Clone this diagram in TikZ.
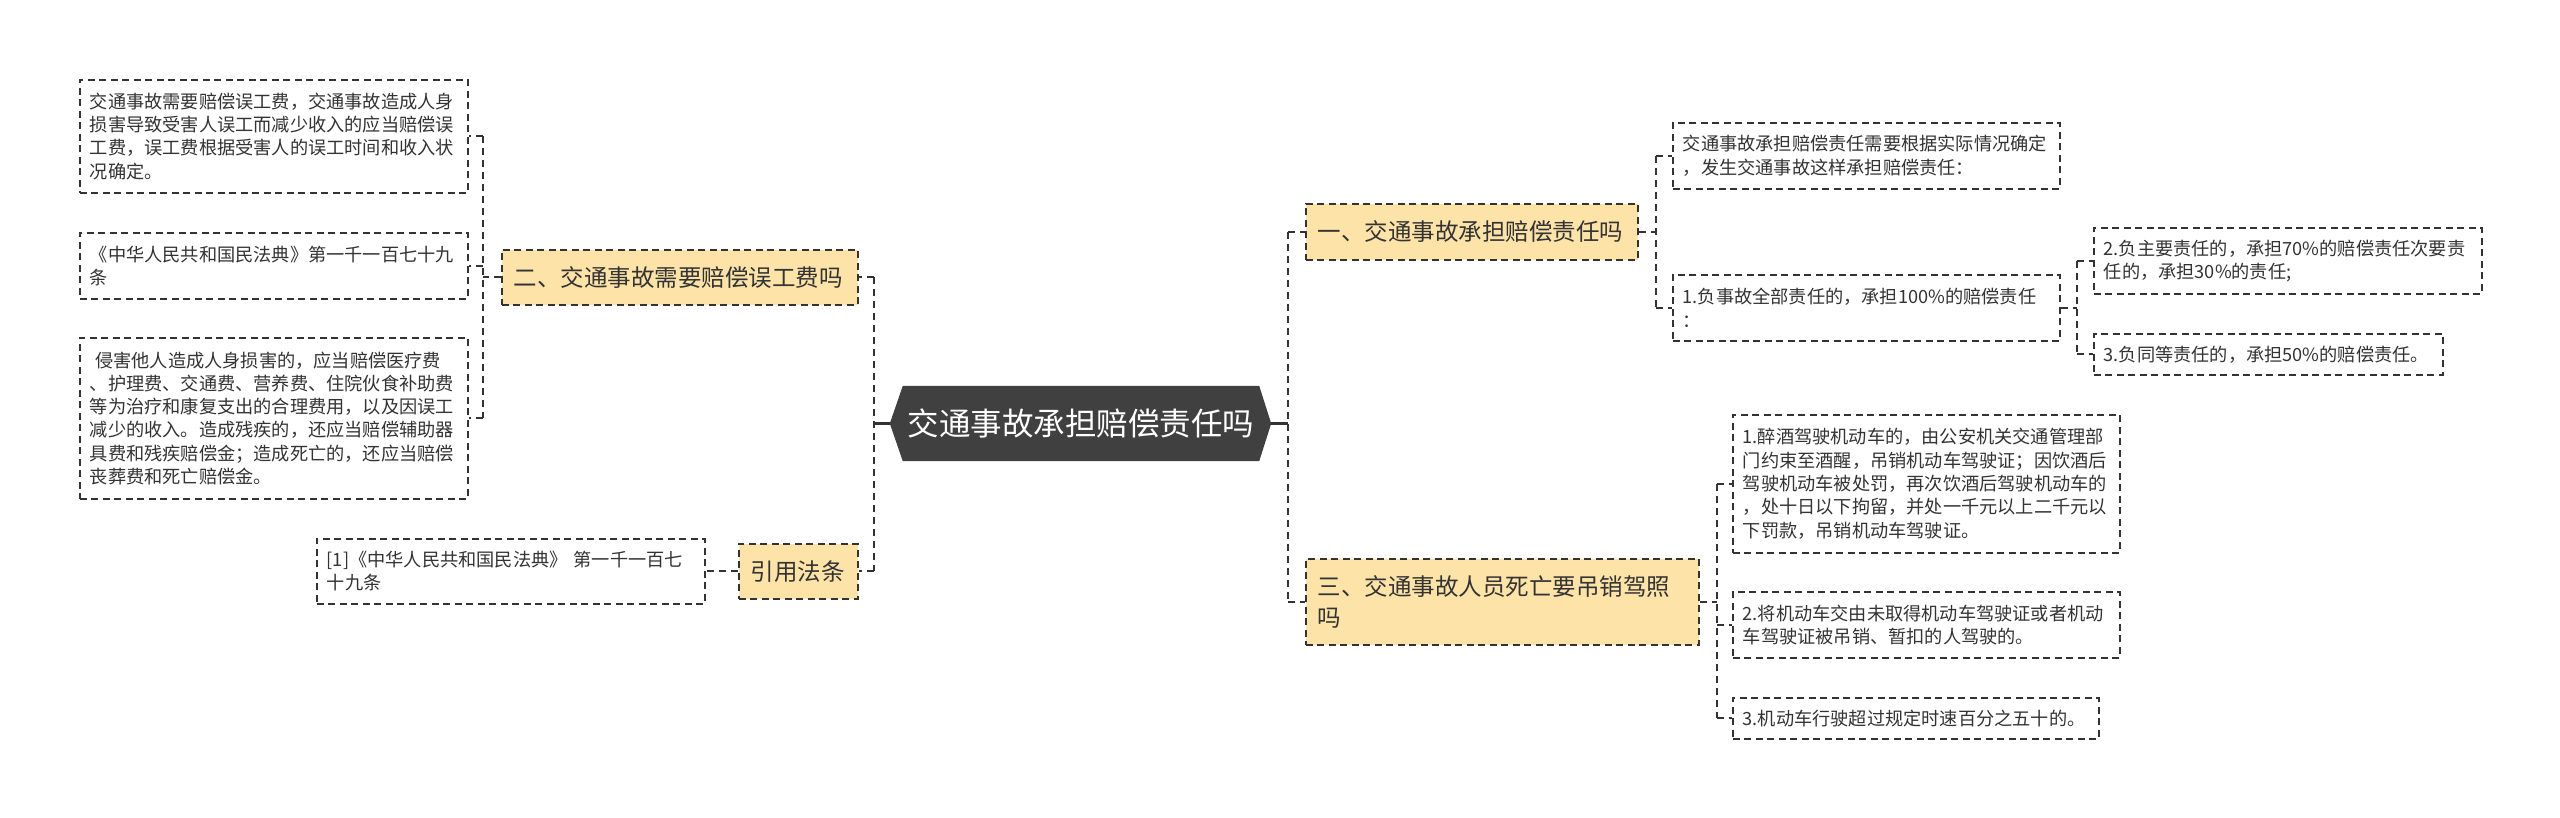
\documentclass[tikz,border=0pt]{standalone}
\usepackage{fontspec}
\setmainfont{Noto Sans CJK SC}
\usetikzlibrary{backgrounds}
\definecolor{linec}{HTML}{333333}
\definecolor{txtc}{HTML}{333333}
\definecolor{yel}{HTML}{FDE3A8}
\definecolor{hexc}{HTML}{404040}
\tikzset{
  leafbox/.style={draw=linec, line width=1.6pt, dash pattern=on 7pt off 4.5pt, fill=white,
    anchor=north west, inner xsep=10pt, inner ysep=0pt, align=left, text=txtc,
    font=\fontsize{18.2}{23.3}\selectfont},
  topicbox/.style={draw=linec, line width=1.6pt, dash pattern=on 7pt off 4.5pt, fill=yel,
    anchor=north west, inner xsep=12pt, inner ysep=0pt, align=left, text=txtc,
    font=\fontsize{23.5}{31}\selectfont},
  conn/.style={draw=linec, line width=2pt, dash pattern=on 7pt off 5pt},
  solidconn/.style={draw=linec, line width=2.5pt}
}
\begin{document}
\begin{tikzpicture}[x=1pt,y=-1pt]
\useasboundingbox (0,0) rectangle (2560,818);

% left leaves
\node[leafbox, text width=368pt, minimum height=113pt] (l1) at (79,79)
 {交通事故需要赔偿误工费，交通事故造成人身\\损害导致受害人误工而减少收入的应当赔偿误\\工费，误工费根据受害人的误工时间和收入状\\况确定。};
\node[leafbox, text width=368pt, minimum height=66pt] (l2) at (79,232)
 {《中华人民共和国民法典》第一千一百七十九\\条};
\node[leafbox, text width=368pt, minimum height=161pt] (l3) at (79,337)
 {\hspace{0.3em}侵害他人造成人身损害的，应当赔偿医疗费\\、护理费、交通费、营养费、住院伙食补助费\\等为治疗和康复支出的合理费用，以及因误工\\减少的收入。造成残疾的，还应当赔偿辅助器\\具费和残疾赔偿金；造成死亡的，还应当赔偿\\丧葬费和死亡赔偿金。};
\node[leafbox, text width=368pt, minimum height=65pt] (lref) at (316,538)
 {[1]《中华人民共和国民法典》 第一千一百七\\十九条};

% left topics
\node[topicbox, text width=332pt, minimum height=55pt] (b2) at (501,249)
 {二、交通事故需要赔偿误工费吗};
\node[topicbox, text width=95pt, minimum height=55pt] (ref) at (738,543)
 {引用法条};

% center
\node[text=white, font=\fontsize{31.5}{36}\selectfont, minimum width=356pt,
  minimum height=75pt, inner sep=0pt] (c) at (1081,423.5) {交通事故承担赔偿责任吗};
\coordinate (cl) at ([xshift=-13pt]c.west);
\coordinate (cr) at ([xshift=12pt]c.east);
\begin{pgfonlayer}{background}
\fill[white] (0,0) rectangle (2560,818);
\fill[hexc] (c.north west) -- (c.north east) -- (cr) -- (c.south east) -- (c.south west) -- (cl) -- cycle;
\end{pgfonlayer}

% right topics
\node[topicbox, text width=308pt, minimum height=56pt] (b1) at (1305,203)
 {一、交通事故承担赔偿责任吗};
\node[topicbox, text width=369pt, minimum height=86pt] (b3) at (1305,558)
 {三、交通事故人员死亡要吊销驾照\\吗};

% right leaves
\node[leafbox, text width=367pt, minimum height=66pt] (la) at (1672,122)
 {交通事故承担赔偿责任需要根据实际情况确定\\，发生交通事故这样承担赔偿责任：};
\node[leafbox, text width=367pt, minimum height=66pt] (lb) at (1672,274)
 {1.负事故全部责任的，承担100\%的赔偿责任\\：};
\node[leafbox, text width=368pt, minimum height=66pt] (lc) at (2093,227)
 {2.负主要责任的，承担70\%的赔偿责任次要责\\任的，承担30\%的责任;};
\node[leafbox, text width=329pt, minimum height=41pt] (ld) at (2093,333)
 {3.负同等责任的，承担50\%的赔偿责任。};
\node[leafbox, text width=367pt, minimum height=138pt] (le) at (1732,414)
 {1.醉酒驾驶机动车的，由公安机关交通管理部\\门约束至酒醒，吊销机动车驾驶证；因饮酒后\\驾驶机动车被处罚，再次饮酒后驾驶机动车的\\，处十日以下拘留，并处一千元以上二千元以\\下罚款，吊销机动车驾驶证。};
\node[leafbox, text width=367pt, minimum height=66pt] (lf) at (1732,591)
 {2.将机动车交由未取得机动车驾驶证或者机动\\车驾驶证被吊销、暂扣的人驾驶的。};
\node[leafbox, text width=346pt, minimum height=41pt] (lg) at (1732,697)
 {3.机动车行驶超过规定时速百分之五十的。};

% connectors: center left
\coordinate (bl) at ([xshift=-16pt]cl);
\draw[solidconn] (cl) -- (bl);
\draw[conn] (bl |- b2.east) -- (bl |- ref.east);
\draw[conn] (bl |- b2.east) -- (b2.east);
\draw[conn] (bl |- ref.east) -- (ref.east);

% b2 to left leaves
\coordinate (bb2) at ([xshift=-18pt]b2.west);
\draw[conn] (b2.west) -- (bb2);
\draw[conn] (bb2 |- l1.east) -- (bb2 |- l3.east);
\draw[conn] (bb2 |- l1.east) -- (l1.east);
\draw[conn] (bb2 |- l2.east) -- (l2.east);
\draw[conn] (bb2 |- l3.east) -- (l3.east);

% ref to leaf
\draw[conn] (ref.west) -- (lref.east);

% center right
\coordinate (br) at ([xshift=17pt]cr);
\draw[solidconn] (cr) -- (br);
\draw[conn] (br |- b1.west) -- (br |- b3.west);
\draw[conn] (br |- b1.west) -- (b1.west);
\draw[conn] (br |- b3.west) -- (b3.west);

% b1 to leaves
\coordinate (bb1) at ([xshift=17pt]b1.east);
\draw[conn] (b1.east) -- (bb1);
\draw[conn] (bb1 |- la.west) -- (bb1 |- lb.west);
\draw[conn] (bb1 |- la.west) -- (la.west);
\draw[conn] (bb1 |- lb.west) -- (lb.west);

% lb to leaves
\coordinate (bbb) at ([xshift=16pt]lb.east);
\draw[conn] (lb.east) -- (bbb);
\draw[conn] (bbb |- lc.west) -- (bbb |- ld.west);
\draw[conn] (bbb |- lc.west) -- (lc.west);
\draw[conn] (bbb |- ld.west) -- (ld.west);

% b3 to leaves
\coordinate (bb3) at ([xshift=17pt]b3.east);
\draw[conn] (b3.east) -- (bb3);
\draw[conn] (bb3 |- le.west) -- (bb3 |- lg.west);
\draw[conn] (bb3 |- le.west) -- (le.west);
\draw[conn] (bb3 |- lf.west) -- (lf.west);
\draw[conn] (bb3 |- lg.west) -- (lg.west);
\end{tikzpicture}
\end{document}
